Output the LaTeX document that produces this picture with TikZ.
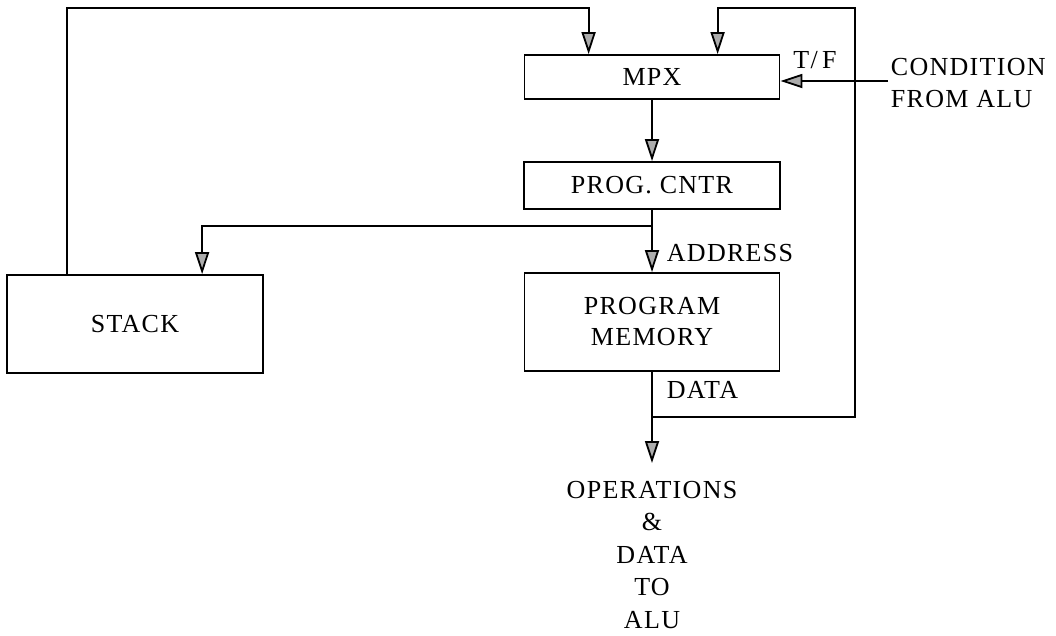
\documentclass[tikz,border=0pt]{standalone}
\usepackage{fontspec}
\setmainfont{Liberation Serif}[LetterSpace=5]
\usetikzlibrary{arrows.meta,calc}
\begin{document}
\begin{tikzpicture}[x=1pt,y=-1pt, line width=1.8pt,
  box/.style={draw, rectangle, inner sep=0pt, font=\fontsize{26}{31}\selectfont},
  arr/.style={-{Triangle[length=22pt,width=14pt,fill=gray!65]}},
  lbl/.style={font=\fontsize{26}{32.5}\selectfont, inner sep=0pt}]
\useasboundingbox (0,0) rectangle (1056,635);
\node[box, minimum width=255pt, minimum height=44pt] (mpx) at (652,77) {MPX};
\node[box, minimum width=256pt, minimum height=47pt] (pc) at (652,185.5) {PROG. CNTR};
\node[box, minimum width=255pt, minimum height=98pt, align=center] (mem) at (652,322) {PROGRAM\\MEMORY};
\node[box, minimum width=256pt, minimum height=98pt] (stack) at (135,324) {STACK};
% labels
\node[lbl] (tf) at (815,60) {T/\,F};
\node[lbl, anchor=west, align=left] (cond) at (890,83) {CONDITION\\FROM ALU};
\node[lbl, anchor=west] (addr) at (666,253) {ADDRESS};
\node[lbl, anchor=west] (data) at (666,390) {DATA};
\node[lbl, align=center, anchor=north] (ops) at (652,480) {OPERATIONS\\\&\\DATA\\TO\\ALU};
% coordinates
\coordinate (s1) at (67,8);
\coordinate (r1) at (855,8);
\coordinate (j1) at (652,417);
\coordinate (j2) at (652,226);
\coordinate (cin) at (888,81);
\coordinate (otip) at (652,463);
% connectors
\draw[arr] (stack.north -| s1) -- (s1) -| ($(mpx.north west)+(65,0)$);
\draw[arr] (j1) -| (r1) -| ($(mpx.north west)+(194,0)$);
\draw[arr] (cin) -- (mpx.east |- cin);
\draw[arr] (mpx.south) -- (pc.north);
\draw[arr] (pc.south) -- (mem.north);
\draw[arr] (j2) -| ($(stack.north west)+(196,0)$);
\draw[arr] (mem.south) -- (otip);
\end{tikzpicture}
\end{document}
